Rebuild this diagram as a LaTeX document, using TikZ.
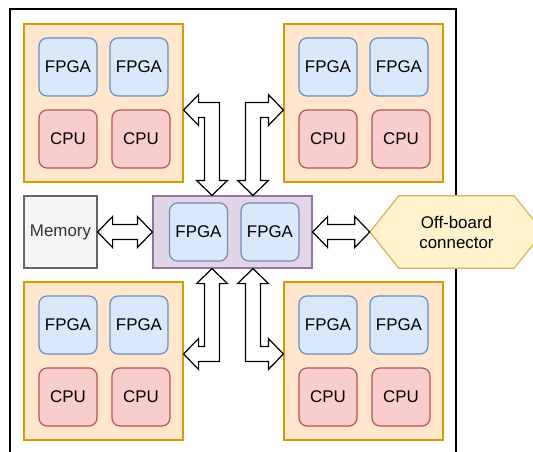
\documentclass[tikz,border=0pt]{standalone}
\usepackage{fontspec}
\setmainfont{Liberation Sans}
\usetikzlibrary{calc,backgrounds}

\definecolor{grpfill}{HTML}{FFE6CC}
\definecolor{grpline}{HTML}{D79B00}
\definecolor{fpgafill}{HTML}{DAE8FC}
\definecolor{fpgaline}{HTML}{6C8EBF}
\definecolor{cpufill}{HTML}{F8CECC}
\definecolor{cpuline}{HTML}{B85450}
\definecolor{midfill}{HTML}{E1D5E7}
\definecolor{midline}{HTML}{9673A6}
\definecolor{memfill}{HTML}{F5F5F5}
\definecolor{memline}{HTML}{666666}
\definecolor{memtext}{HTML}{333333}
\definecolor{connfill}{HTML}{FFF2CC}
\definecolor{connline}{HTML}{D6B656}

% straight double-headed block arrow between two points on one level
\newcommand{\flexh}[2]{%
  \draw[flex] let \p1=(#1), \p2=(#2) in
    (\x1,\y1) -- ({\x1+15pt},{\y1+15.5pt}) -- ({\x1+15pt},{\y1+7.5pt})
    -- ({\x2-15pt},{\y1+7.5pt}) -- ({\x2-15pt},{\y1+15.5pt}) -- (\x2,\y1)
    -- ({\x2-15pt},{\y1-15.5pt}) -- ({\x2-15pt},{\y1-7.5pt})
    -- ({\x1+15pt},{\y1-7.5pt}) -- ({\x1+15pt},{\y1-15.5pt}) -- cycle;}

% bent block arrow: horizontal from #1, then vertical into #2
% #3 = horizontal direction (1 right, -1 left), #4 = vertical direction (1 up, -1 down)
\newcommand{\flexbend}[4]{%
  \draw[flex] let \p1=(#1), \p2=(#2) in
    (\x1,\y1) -- ({\x1+(#3)*15pt},{\y1+(#4)*15.5pt})
    -- ({\x1+(#3)*15pt},{\y1+(#4)*7.5pt}) -- ({\x2-(#3)*7.5pt},{\y1+(#4)*7.5pt})
    -- ({\x2-(#3)*7.5pt},{\y2-(#4)*15pt}) -- ({\x2-(#3)*15.5pt},{\y2-(#4)*15pt})
    -- (\x2,\y2)
    -- ({\x2+(#3)*15.5pt},{\y2-(#4)*15pt}) -- ({\x2+(#3)*7.5pt},{\y2-(#4)*15pt})
    -- ({\x2+(#3)*7.5pt},{\y1-(#4)*7.5pt}) -- ({\x1+(#3)*15pt},{\y1-(#4)*7.5pt})
    -- ({\x1+(#3)*15pt},{\y1-(#4)*15.5pt}) -- cycle;}

\begin{document}
\begin{tikzpicture}
        [x=1pt, y=-1pt,
        every node/.style={font=\fontsize{16.9}{20}\selectfont, inner sep=0pt},
        board/.style={draw=black, line width=1.3pt},
        group/.style={draw=grpline, fill=grpfill, line width=1.2pt, minimum width=159pt, minimum height=158pt},
        fpga/.style={draw=fpgaline, fill=fpgafill, line width=1.2pt, rounded corners=8pt, minimum size=58pt},
        cpu/.style={draw=cpuline, fill=cpufill, line width=1.2pt, rounded corners=8pt, minimum size=58pt},
        hub/.style={draw=midline, fill=midfill, line width=1.2pt, minimum width=159pt, minimum height=72pt},
        memory/.style={draw=memline, fill=memfill, text=memtext, line width=1.2pt, minimum width=73pt, minimum height=72pt},
        offboard/.style={minimum width=173pt, minimum height=72pt, align=center},
        hexa/.style={draw=connline, fill=connfill, line width=1.2pt, line join=miter},
        flex/.style={draw=black, fill=white, line width=1.2pt, line join=miter}]

        \useasboundingbox (0,0) rectangle (533,451);

        % Top-left compute group
        \node[group] (tl) at (103.5,103) {};
        \node[fpga] (tlf1) at (68,67) {FPGA};
        \node[fpga] (tlf2) at (139,67) {FPGA};
        \node[cpu] (tlc1) at (68,139) {CPU};
        \node[cpu] (tlc2) at (141,139) {CPU};

        % Top-right compute group
        \node[group] (tr) at (363.5,103) {};
        \node[fpga] (trf1) at (328,67) {FPGA};
        \node[fpga] (trf2) at (399,67) {FPGA};
        \node[cpu] (trc1) at (328,139) {CPU};
        \node[cpu] (trc2) at (401,139) {CPU};

        % Bottom-left compute group
        \node[group] (bl) at (103.5,361) {};
        \node[fpga] (blf1) at (68,325) {FPGA};
        \node[fpga] (blf2) at (139,325) {FPGA};
        \node[cpu] (blc1) at (68,397) {CPU};
        \node[cpu] (blc2) at (141,397) {CPU};

        % Bottom-right compute group
        \node[group] (br) at (363.5,361) {};
        \node[fpga] (brf1) at (328,325) {FPGA};
        \node[fpga] (brf2) at (399,325) {FPGA};
        \node[cpu] (brc1) at (328,397) {CPU};
        \node[cpu] (brc2) at (401,397) {CPU};

        % Central switch with its two FPGAs
        \node[hub] (mid) at (232.5,232) {};
        \node[fpga] (midf1) at (198.5,232) {FPGA};
        \node[fpga] (midf2) at (270,232) {FPGA};

        % Memory and off-board connector
        \node[memory] (mem) at (60.5,232) {Memory};
        \node[offboard] (conn) at (456.5,232) {Off-board\\connector};

        % Board outline and connector outline behind everything
        \begin{scope}[on background layer]
        \draw[board] (10,9) rectangle (456,480);
        \draw[hexa] (conn.west) -- ([xshift=29pt]conn.north west) -- ([xshift=-29pt]conn.north east)
          -- (conn.east) -- ([xshift=-29pt]conn.south east) -- ([xshift=29pt]conn.south west) -- cycle;
        \end{scope}

        % Block arrows
        \flexh{mem.east}{mid.west}
        \flexh{mid.east}{conn.west}
        \flexbend{[yshift=-7pt]tl.east}{[xshift=-20.5pt]mid.north}{1}{-1}
        \flexbend{[yshift=-7pt]tr.west}{[xshift=20.5pt]mid.north}{-1}{-1}
        \flexbend{[yshift=7pt]bl.east}{[xshift=-20.5pt]mid.south}{1}{1}
        \flexbend{[yshift=7pt]br.west}{[xshift=20.5pt]mid.south}{-1}{1}

    \end{tikzpicture}
\end{document}
